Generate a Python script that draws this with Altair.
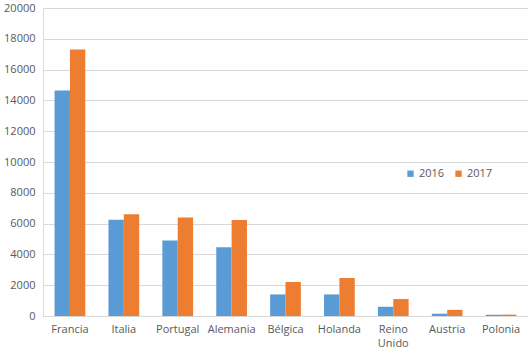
import altair as alt
import pandas as pd

countries = ["Francia", "Italia", "Portugal", "Alemania", "Bélgica", "Holanda", "Reino Unido", "Austria", "Polonia"]
v2016 = [14650, 6250, 4900, 4470, 1400, 1400, 600, 150, 80]
v2017 = [17300, 6600, 6400, 6240, 2210, 2470, 1100, 400, 90]
years = ["2016", "2017"]
colors = ["#5B9BD5", "#ED7D31"]

rows = []
for c, a, b in zip(countries, v2016, v2017):
    rows.append({"pais": c, "anio": "2016", "valor": a})
    rows.append({"pais": c, "anio": "2017", "valor": b})
df = pd.DataFrame(rows)

font = "Open Sans"
chart = alt.Chart(df).mark_bar().encode(
    x=alt.X("pais:N", sort=countries, title=None,
            scale=alt.Scale(paddingInner=0.43, paddingOuter=0.215),
            axis=alt.Axis(labelAngle=0, ticks=False, domainColor="#d9d9d9",
                          labelColor="#595959", labelFontSize=11, labelFont=font,
                          labelPadding=7, labelLineHeight=14,
                          labelExpr="datum.label == 'Reino Unido' ? ['Reino', 'Unido'] : datum.label")),
    xOffset=alt.XOffset("anio:N", sort=years),
    y=alt.Y("valor:Q", title=None,
            scale=alt.Scale(domain=[0, 20000], nice=False),
            axis=alt.Axis(values=list(range(0, 20001, 2000)), format="d", ticks=False, domain=False,
                          gridColor="#d9d9d9", labelColor="#595959", labelFontSize=11,
                          labelFont=font, labelPadding=8)),
    color=alt.Color("anio:N", sort=years, scale=alt.Scale(domain=years, range=colors),
                    legend=alt.Legend(title=None, orient="none", direction="horizontal",
                                      legendX=362, legendY=160, symbolType="square",
                                      symbolSize=40, labelFontSize=11, labelFont=font,
                                      labelColor="#595959", columnPadding=8,
                                      labelOffset=3, symbolStrokeWidth=0)),
).properties(
    width=485, height=308,
    autosize=alt.AutoSizeParams(type="none"),
    padding={"left": 43, "top": 8, "right": 0, "bottom": 36},
).configure_view(stroke=None).configure(background="white")

chart.save("out.html", embed_options={"renderer": "svg", "actions": False})
